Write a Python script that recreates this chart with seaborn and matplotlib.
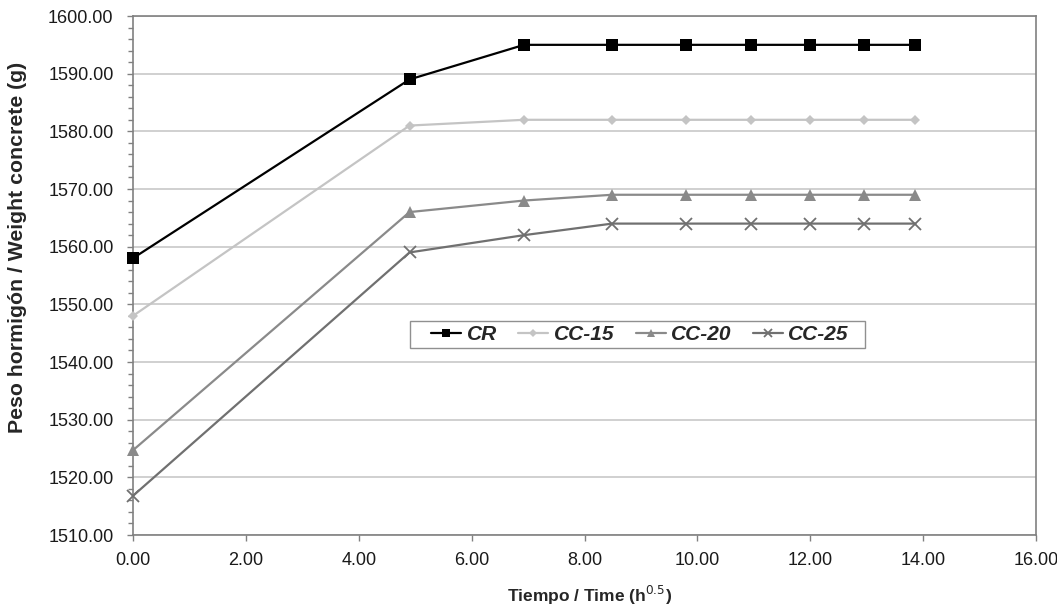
import numpy as np
import pandas as pd
import matplotlib
matplotlib.use('Agg')
import matplotlib.pyplot as plt
from matplotlib.patches import Rectangle
from matplotlib.ticker import MultipleLocator, FormatStrFormatter
import seaborn as sns

# time in sqrt(hours): sqrt of 0, 24, 48, ... 192 h
hours = [0, 24, 48, 72, 96, 120, 144, 168, 192]
t = [round(np.sqrt(h), 2) for h in hours]

cr = [1558, 1589, 1595, 1595, 1595, 1595, 1595, 1595, 1595]
cc15 = [1548, 1581, 1582, 1582, 1582, 1582, 1582, 1582, 1582]
cc20 = [1524.7, 1566, 1568, 1569, 1569, 1569, 1569, 1569, 1569]
cc25 = [1516.8, 1559, 1562, 1564, 1564, 1564, 1564, 1564, 1564]

names = ['CR', 'CC-15', 'CC-20', 'CC-25']
series = [cr, cc15, cc20, cc25]
colors = ['#000000', '#c4c4c4', '#8a8a8a', '#707070']
markers = ['s', 'D', '^', 'x']
msizes = [8.5, 5.5, 8, 8]

sns.set_style('white')
plt.rcParams['font.family'] = ['Liberation Sans', 'DejaVu Sans']

W, H = 1057, 611
fig = plt.figure(figsize=(W / 100, H / 100), dpi=100)
ax = fig.add_axes([133 / W, 1 - 535 / H, (1036 - 133) / W, (535 - 16) / H])

for name, vals, c, m, ms in zip(names, series, colors, markers, msizes):
    df = pd.DataFrame({'t': t, 'w': vals})
    sns.lineplot(data=df, x='t', y='w', ax=ax, color=c, marker=m, markersize=ms,
                 markeredgecolor=c, markeredgewidth=1.3 if m == 'x' else 0,
                 linewidth=1.6, label=name, clip_on=False, zorder=3)

ax.set_xlim(0, 16)
ax.set_ylim(1510, 1600)
ax.xaxis.set_major_locator(MultipleLocator(2))
ax.yaxis.set_major_locator(MultipleLocator(10))
ax.yaxis.set_minor_locator(MultipleLocator(2))
ax.xaxis.set_major_formatter(FormatStrFormatter('%.2f'))
ax.yaxis.set_major_formatter(FormatStrFormatter('%.2f'))
ax.grid(axis='y', which='major', color='#c8c8c8', linewidth=1.2)
ax.grid(axis='x', visible=False)
ax.tick_params(axis='both', which='major', direction='out', length=4, width=1,
               color='#808080', labelsize=13, labelcolor='#1a1a1a', left=True, bottom=True)
ax.tick_params(axis='y', which='major', pad=10)
ax.tick_params(axis='x', which='major', pad=8)
ax.tick_params(axis='y', which='minor', direction='out', length=3.5, width=1,
               color='#808080', left=True)
for s in ax.spines.values():
    s.set_color('#808080')
    s.set_linewidth(1.2)

ax.set_xlabel('')
ax.set_ylabel('')
fig.text(590 / W, 1 - 595 / H, 'Tiempo / Time (h$^{0.5}$)', ha='center', va='center',
         fontsize=12.5, fontweight='bold')
fig.text(18 / W, 1 - 247 / H, 'Peso hormigón / Weight concrete (g)', ha='center', va='center',
         rotation=90, fontsize=15.3, fontweight='bold')

# legend box drawn separately so the side padding can be wider than the top/bottom
ax.add_patch(Rectangle((410 / W, 1 - 348 / H), 455 / W, 27 / H, transform=fig.transFigure,
                       facecolor='white', edgecolor='#909090', linewidth=1, zorder=4,
                       clip_on=False))
leg = ax.legend(loc='center', bbox_to_anchor=(640 / W, 1 - 334.5 / H),
                bbox_transform=fig.transFigure, ncol=4, frameon=False,
                handlelength=1.45, handletextpad=0.25, columnspacing=1.03, borderpad=0,
                borderaxespad=0, markerscale=0.75,
                prop={'weight': 'bold', 'style': 'italic', 'size': 15})
leg.set_zorder(6)

fig.savefig('out.png', dpi=100)
